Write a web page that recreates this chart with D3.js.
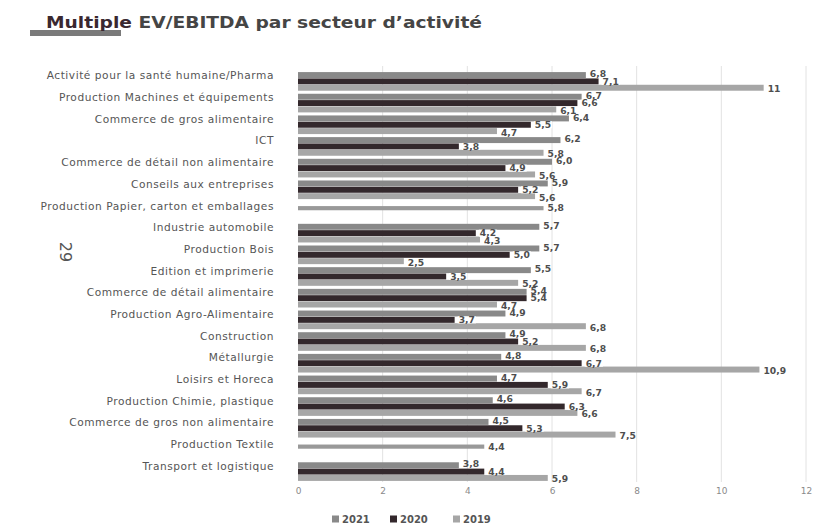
<!DOCTYPE html>
<html><head><meta charset="utf-8">
<script src="https://cdn.jsdelivr.net/npm/d3@7"></script>
<style>html,body{margin:0;padding:0;background:#fff;}svg{display:block;}</style>
</head><body>
<svg id="chart" width="819" height="527"></svg>
<script>
const categories = [
  "Activité pour la santé humaine/Pharma",
  "Production Machines et équipements",
  "Commerce de gros alimentaire",
  "ICT",
  "Commerce de détail non alimentaire",
  "Conseils aux entreprises",
  "Production Papier, carton et emballages",
  "Industrie automobile",
  "Production Bois",
  "Edition et imprimerie",
  "Commerce de détail alimentaire",
  "Production Agro-Alimentaire",
  "Construction",
  "Métallurgie",
  "Loisirs et Horeca",
  "Production Chimie, plastique",
  "Commerce de gros non alimentaire",
  "Production Textile",
  "Transport et logistique"
];
const series = ["2021", "2020", "2019"];
const values2021 = [6.8, 6.7, 6.4, 6.2, 6.0, 5.9, null, 5.7, 5.7, 5.5, 5.4, 4.9, 4.9, 4.8, 4.7, 4.6, 4.5, null, 3.8];
const values2020 = [7.1, 6.6, 5.5, 3.8, 4.9, 5.2, null, 4.2, 5.0, 3.5, 5.4, 3.7, 5.2, 6.7, 5.9, 6.3, 5.3, null, 4.4];
const values2019 = [11, 6.1, 4.7, 5.8, 5.6, 5.6, 5.8, 4.3, 2.5, 5.2, 4.7, 6.8, 6.8, 10.9, 6.7, 6.6, 7.5, 4.4, 5.9];
const xTicks = [0, 2, 4, 6, 8, 10, 12];

const colors = {"2021": "#898989", "2020": "#33282c", "2019": "#a6a6a6"};
const seriesValues = {"2021": values2021, "2020": values2020, "2019": values2019};

const svg = d3.select("#chart");
const x = d3.scaleLinear().domain([0, 12]).range([298, 806]);
const y = d3.scaleBand().domain(categories).range([71, 482]).paddingInner(0.14).paddingOuter(0.05);
const ys = d3.scaleBand().domain(series).range([0, y.bandwidth()]).paddingInner(0.06);

// title
svg.append("rect").attr("x", 30).attr("y", 30).attr("width", 91).attr("height", 6).attr("fill", "#7a7a7a");
const title = svg.append("text").attr("x", 46).attr("y", 28)
  .attr("font-family", "DejaVu Sans, sans-serif").attr("font-weight", "bold").attr("font-size", 16.5)
  .attr("textLength", 436).attr("lengthAdjust", "spacingAndGlyphs");
title.append("tspan").attr("fill", "#3a2830").text("Multiple");
title.append("tspan").attr("fill", "#454545").text(" EV/EBITDA par secteur d\u2019activité");

// page number
svg.append("text").attr("transform", "translate(60,252) rotate(90)")
  .attr("text-anchor", "middle").attr("font-family", "DejaVu Sans, sans-serif")
  .attr("font-size", 16).attr("fill", "#555").text("29");

// grid
svg.append("g").selectAll("line").data(xTicks.filter(d => d > 0)).join("line")
  .attr("x1", d => x(d)).attr("x2", d => x(d)).attr("y1", 66).attr("y2", 482)
  .attr("stroke", "#e2e2e2").attr("stroke-width", 1);

// x axis labels
const xAxis = d3.axisBottom(x).tickValues(xTicks).tickSize(0).tickPadding(0);
const gx = svg.append("g").attr("transform", "translate(0,488)").call(xAxis);
gx.select(".domain").remove();
gx.selectAll("text").attr("font-family", "DejaVu Sans, sans-serif").attr("font-size", 9).attr("fill", "#8a8a8a");

// y axis labels
const yAxis = d3.axisLeft(y).tickSize(0).tickPadding(0);
const gy = svg.append("g").attr("transform", "translate(274,0)").call(yAxis);
gy.select(".domain").remove();
gy.selectAll("text").attr("font-family", "DejaVu Sans, sans-serif").attr("font-size", 10.6)
  .attr("letter-spacing", "0.55px")
  .attr("fill", "#555").attr("dy", "0.1em").attr("transform", "translate(0,-3)");

// bars
const barData = [];
categories.forEach((c, i) => {
  const present = series.filter(s => seriesValues[s][i] != null);
  present.forEach(s => {
    barData.push({cat: c, s: s, v: seriesValues[s][i], single: present.length === 1});
  });
});
const bh = ys.bandwidth();
const barY = d => d.single ? y(d.cat) + ys("2020") + bh * 0.1 - 3 : y(d.cat) + ys(d.s);
const barH = d => d.single ? bh * 0.7 : bh;
svg.append("g").selectAll("rect").data(barData).join("rect")
  .attr("x", x(0)).attr("y", barY)
  .attr("width", d => x(d.v) - x(0)).attr("height", barH)
  .attr("fill", d => d.single ? "#999" : colors[d.s]);

// value labels
const fmt = v => (Number.isInteger(v) && v >= 10) ? String(v) : d3.format(".1f")(v).replace(".", ",");
const spread = {"2021": -1.2, "2020": 0, "2019": 1.2};
const lg = svg.append("g");
barData.forEach(d => {
  const cy = barY(d) + barH(d) / 2 + (d.single ? 0 : spread[d.s]);
  const t = lg.append("text").attr("x", x(d.v) + 4).attr("y", cy).attr("dy", "0.36em")
    .attr("font-family", "DejaVu Sans, sans-serif").attr("font-weight", "bold").attr("font-size", 9.2)
    .attr("fill", "#4e4e4e").text(fmt(d.v));
  if (d.s === "2020") {
    const bb = t.node().getBBox();
    lg.insert("rect", () => t.node()).attr("x", bb.x - 1).attr("y", cy - 3.5)
      .attr("width", bb.width + 2).attr("height", 7).attr("fill", "#fff");
  }
});

// legend
const legend = svg.append("g").attr("transform", "translate(332,519)");
const lx = [0, 58, 121];
series.forEach((s, i) => {
  const g = legend.append("g").attr("transform", `translate(${lx[i]},0)`);
  g.append("rect").attr("x", 0).attr("y", -3.5).attr("width", 7).attr("height", 7).attr("fill", colors[s]);
  g.append("text").attr("x", 10).attr("y", 0).attr("dy", "0.36em")
    .attr("font-family", "DejaVu Sans, sans-serif").attr("font-weight", "bold").attr("font-size", 10)
    .attr("fill", "#555").text(s);
});
</script>
</body></html>
